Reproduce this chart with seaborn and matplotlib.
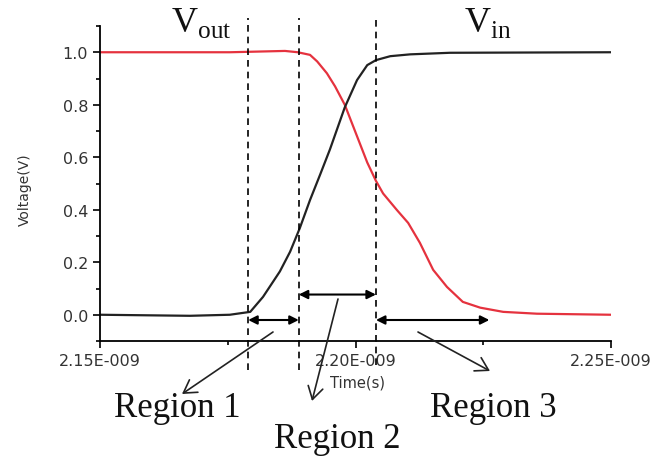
import numpy as np
import pandas as pd
import seaborn as sns
import matplotlib
matplotlib.use("Agg")
import matplotlib.pyplot as plt
from matplotlib.ticker import FixedLocator, FixedFormatter

# time in ns, voltage in V
vout_t = [2.150, 2.1754, 2.1862, 2.1887, 2.1911, 2.1925, 2.1944, 2.1960, 2.1979,
          2.2003, 2.2023, 2.2040, 2.2054, 2.2081, 2.2103, 2.2126, 2.2152, 2.2179,
          2.2210, 2.2244, 2.2289, 2.2355, 2.2500]
vout_v = [1.000, 1.000, 1.005, 1.000, 0.990, 0.965, 0.920, 0.870, 0.800,
          0.680, 0.580, 0.510, 0.462, 0.399, 0.350, 0.274, 0.171, 0.106,
          0.049, 0.027, 0.011, 0.004, 0.000]

vin_t = [2.150, 2.1676, 2.1754, 2.1794, 2.1819, 2.1852, 2.1872, 2.1891, 2.1911,
         2.1931, 2.1950, 2.1979, 2.2003, 2.2023, 2.2040, 2.2068, 2.2107, 2.2185,
         2.2500]
vin_v = [0.000, -0.004, 0.000, 0.011, 0.068, 0.165, 0.240, 0.330, 0.437,
         0.535, 0.630, 0.790, 0.894, 0.951, 0.970, 0.985, 0.992, 0.998,
         1.000]

# region boundaries (ns)
bounds = [2.1790, 2.1889, 2.2040, 2.2262]

xticks = [2.15, 2.20, 2.25]
xtick_labels = ["2.15E-009", "2.20E-009", "2.25E-009"]
yticks = [0.0, 0.2, 0.4, 0.6, 0.8, 1.0]

df = pd.concat([
    pd.DataFrame({"time": np.array(vout_t) * 1e-9, "volt": vout_v, "sig": "Vout"}),
    pd.DataFrame({"time": np.array(vin_t) * 1e-9, "volt": vin_v, "sig": "Vin"}),
])

sns.set_style("white")
plt.rcParams["font.family"] = ["DejaVu Sans"]
plt.rcParams["mathtext.fontset"] = "custom"
plt.rcParams["mathtext.rm"] = "Liberation Serif"

W, H = 657, 460
fig = plt.figure(figsize=(W / 100, H / 100), dpi=100)
ax = fig.add_axes([100 / W, 1 - 342 / H, 511 / W, 315 / H])


def px(x, y):
    return (x / W, 1 - y / H)


sns.lineplot(data=df, x="time", y="volt", hue="sig",
             palette={"Vout": "#e5323e", "Vin": "#222222"},
             estimator=None, sort=False, lw=1.6, legend=False, ax=ax)

ax.set_xlim(2.15e-9, 2.25e-9)
ax.set_ylim(-0.1, 1.1)

for s in ["top", "right"]:
    ax.spines[s].set_visible(False)
for s in ["left", "bottom"]:
    ax.spines[s].set_color("black")
    ax.spines[s].set_linewidth(1.3)

ax.xaxis.set_major_locator(FixedLocator([v * 1e-9 for v in xticks]))
ax.xaxis.set_major_formatter(FixedFormatter(xtick_labels))
ax.xaxis.set_minor_locator(FixedLocator([2.175e-9, 2.225e-9]))
ax.yaxis.set_major_locator(FixedLocator(yticks))
ax.yaxis.set_minor_locator(FixedLocator([-0.1, 0.1, 0.3, 0.5, 0.7, 0.9, 1.1]))
ax.set_yticklabels([f"{v:.1f}" for v in yticks])
ax.tick_params(which="both", direction="out", color="black", width=1.2,
               labelsize=11.5, labelcolor="#333333", left=True, bottom=True)
ax.tick_params(which="major", length=5)
ax.tick_params(which="minor", length=3)
ax.set_xlabel("")
ax.set_ylabel("")

fig.text(*px(25, 190), "Voltage(V)", rotation=90, ha="center", va="center",
         fontsize=10, color="#333333")
fig.text(*px(358, 383), "Time(s)", ha="center", va="center",
         fontsize=10.5, color="#333333")

# dashed region boundaries
for t, ybot in zip(bounds[:3], [-0.21, -0.21, -0.19]):
    ax.plot([t * 1e-9, t * 1e-9], [ybot, 1.13], color="black", lw=1.2,
            ls=(0, (4, 3)), clip_on=False)

# double arrows
arr = dict(arrowstyle="<|-|>", color="black", lw=1.5, mutation_scale=13,
           shrinkA=0, shrinkB=0)
for (a, b), yv in zip([(0, 1), (1, 2), (2, 3)], [-0.02, 0.077, -0.02]):
    ax.annotate("", xy=(bounds[a] * 1e-9, yv), xytext=(bounds[b] * 1e-9, yv),
                arrowprops=arr, annotation_clip=False)

# pointer arrows
ptr = dict(arrowstyle="->,head_length=0.5,head_width=0.3", color="#222222",
           lw=1.2, mutation_scale=18, shrinkA=0, shrinkB=0)
for p0, p1 in [((273, 333), (182, 395)), ((338, 300), (312, 402)),
               ((418, 333), (490, 372))]:
    ax.annotate("", xy=px(*p1), xytext=px(*p0), xycoords="figure fraction",
                textcoords="figure fraction", arrowprops=ptr,
                annotation_clip=False)

fig.text(*px(201, 32), r"$\mathrm{V}_{\mathrm{out}}$", ha="center",
         va="baseline", fontsize=26, color="#111111")
fig.text(*px(488, 32), r"$\mathrm{V}_{\mathrm{in}}$", ha="center",
         va="baseline", fontsize=26, color="#111111")

serif = dict(family="Liberation Serif", fontsize=25, color="#111111",
             ha="center", va="baseline")
fig.text(*px(177, 417), "Region 1", **serif)
fig.text(*px(337, 448), "Region 2", **serif)
fig.text(*px(493, 417), "Region 3", **serif)

fig.savefig("out.png", dpi=100)
plt.close(fig)
